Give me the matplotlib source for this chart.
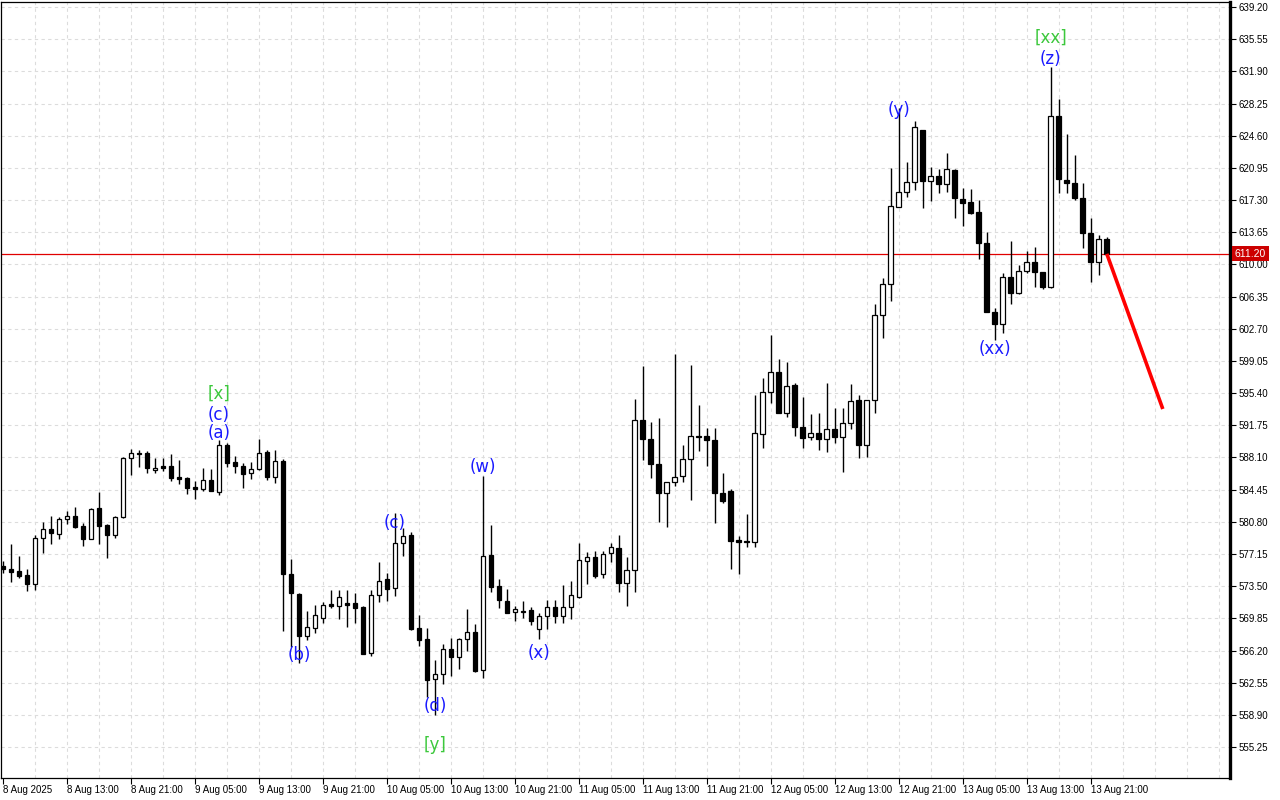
import matplotlib
matplotlib.use('Agg')
import matplotlib.pyplot as plt
import matplotlib.transforms as mtransforms
import numpy as np

# Hourly candles, 8 Aug 05:00 .. 13 Aug 23:00
opens = [575.82, 575.44, 575.22, 574.77, 573.71, 578.93, 579.98, 579.42, 581.08, 581.42,
         580.29, 578.81, 582.33, 580.44, 579.30, 581.31, 588.07, 588.60, 588.57, 586.70,
         587.10, 587.15, 585.85, 585.73, 584.70, 584.55, 585.50, 584.22, 589.50, 587.58,
         587.13, 586.30, 586.76, 588.68, 585.92, 587.70, 574.84, 572.61, 567.88, 568.72,
         569.94, 571.50, 571.30, 571.55, 571.55, 571.14, 565.88, 572.46, 574.31, 573.25,
         578.36, 579.27, 568.72, 567.47, 562.93, 563.50, 566.37, 565.50, 567.47, 568.26,
         563.95, 577.03, 573.52, 571.82, 570.53, 570.57, 570.79, 568.60, 570.11, 571.10,
         570.11, 571.17, 572.31, 576.39, 576.77, 574.84, 577.22, 577.79, 573.82, 575.33,
         592.35, 590.16, 587.32, 584.10, 585.35, 585.99, 587.89, 590.55, 590.50, 590.08,
         584.03, 584.29, 578.74, 578.62, 578.48, 590.73, 595.49, 597.76, 593.11, 596.32,
         591.59, 590.39, 590.91, 590.20, 591.29, 590.46, 591.97, 594.58, 589.55, 594.58,
         604.23, 607.74, 616.55, 618.25, 619.38, 625.25, 619.50, 620.03, 619.09, 620.68,
         617.39, 617.04, 615.91, 612.39, 604.56, 603.20, 608.54, 606.72, 609.25, 610.24,
         609.10, 607.47, 626.87, 619.57, 619.20, 617.50, 613.53, 610.24, 612.85]
highs = [576.30, 578.30, 576.90, 575.50, 579.30, 580.81, 581.45, 581.30, 582.00, 582.44,
         580.63, 582.40, 584.22, 580.52, 581.46, 588.10, 589.02, 589.00, 588.83, 588.07,
         588.00, 588.45, 587.80, 585.90, 585.46, 586.87, 586.76, 590.10, 589.70, 588.27,
         587.44, 587.55, 590.19, 588.94, 588.94, 587.90, 576.55, 572.70, 570.68, 571.36,
         571.74, 573.06, 573.06, 573.06, 572.70, 571.20, 573.06, 576.27, 574.96, 581.76,
         580.06, 579.68, 570.23, 568.72, 565.12, 566.94, 567.58, 567.65, 570.90, 569.20,
         586.00, 580.44, 574.31, 573.20, 571.28, 571.80, 571.17, 570.42, 571.93, 571.93,
         573.63, 574.12, 578.43, 577.41, 577.52, 577.52, 578.43, 579.30, 576.77, 594.70,
         598.47, 592.16, 592.54, 585.35, 599.84, 589.50, 598.59, 594.05, 591.40, 591.40,
         586.30, 584.49, 579.22, 581.69, 595.18, 597.08, 601.99, 599.23, 598.96, 596.51,
         594.92, 593.00, 593.11, 596.51, 593.68, 593.68, 596.43, 595.15, 594.60, 605.51,
         608.49, 620.97, 627.71, 621.65, 626.30, 625.30, 621.08, 620.82, 622.60, 620.79,
         618.63, 618.52, 617.30, 613.70, 605.02, 609.06, 612.65, 609.93, 611.52, 612.00,
         609.10, 632.36, 628.73, 624.76, 622.41, 619.20, 615.23, 613.33, 613.07]
lows = [575.00, 574.00, 574.40, 573.00, 573.06, 577.30, 578.28, 578.85, 580.55, 580.06,
        578.10, 578.80, 578.28, 576.73, 579.00, 581.20, 586.11, 587.05, 586.30, 586.30,
        586.60, 585.43, 585.05, 583.92, 583.42, 584.30, 584.30, 583.84, 587.05, 586.30,
        584.67, 585.62, 586.65, 585.54, 585.24, 568.45, 566.63, 564.75, 567.39, 568.15,
        569.28, 570.99, 569.77, 568.90, 569.35, 565.80, 565.60, 571.74, 571.85, 572.38,
        576.96, 568.52, 566.74, 560.96, 558.88, 562.40, 563.30, 564.10, 566.20, 563.79,
        563.11, 572.87, 571.06, 570.42, 569.58, 569.90, 569.10, 567.47, 568.60, 569.35,
        569.35, 569.80, 572.12, 573.75, 574.39, 574.39, 576.27, 572.80, 571.28, 572.87,
        587.81, 585.74, 580.81, 580.17, 584.89, 585.35, 583.27, 588.83, 587.13, 580.70,
        582.90, 575.45, 574.88, 577.97, 577.97, 589.14, 594.31, 593.10, 592.72, 590.53,
        589.21, 590.08, 588.94, 588.76, 589.77, 586.48, 591.33, 588.07, 588.18, 593.11,
        601.68, 605.88, 616.50, 617.68, 618.44, 616.43, 617.20, 618.06, 618.25, 615.30,
        614.39, 615.72, 610.58, 604.60, 601.42, 602.18, 605.47, 606.70, 609.00, 607.40,
        607.18, 607.29, 618.07, 618.07, 617.30, 611.83, 608.04, 608.80, 611.07]
closes = [575.44, 575.14, 574.65, 573.75, 579.00, 579.98, 579.50, 581.12, 581.42, 580.24,
          578.81, 582.25, 580.32, 579.30, 581.38, 588.00, 588.57, 588.50, 586.94, 586.95,
          586.95, 585.80, 585.66, 584.67, 584.55, 585.50, 584.33, 589.48, 587.50, 587.16,
          586.19, 586.76, 588.57, 585.92, 587.70, 574.84, 572.69, 567.88, 568.83, 570.20,
          571.33, 571.30, 572.24, 571.40, 571.05, 565.84, 572.46, 574.12, 573.14, 578.36,
          579.22, 568.64, 567.39, 562.85, 563.50, 566.34, 565.50, 567.47, 568.26, 563.87,
          576.95, 573.44, 571.93, 570.49, 570.91, 570.62, 569.58, 570.11, 571.10, 570.11,
          571.10, 572.46, 576.47, 576.77, 574.69, 577.11, 577.90, 573.82, 575.33, 592.31,
          590.16, 587.32, 584.03, 585.35, 585.92, 587.93, 590.57, 590.45, 590.10, 584.10,
          583.20, 578.66, 578.48, 578.48, 590.84, 595.49, 597.76, 593.11, 596.24, 591.59,
          590.27, 590.91, 590.16, 591.29, 590.39, 591.97, 594.47, 589.55, 594.58, 604.26,
          607.74, 616.63, 618.18, 619.38, 625.55, 619.50, 620.03, 619.09, 620.79, 617.50,
          617.00, 615.87, 612.39, 604.63, 603.20, 608.54, 606.72, 609.25, 610.24, 609.10,
          607.47, 626.87, 619.65, 619.20, 617.50, 613.53, 610.24, 612.85, 611.20]

current_price = 611.20

price_ticks = [555.25, 558.90, 562.55, 566.20, 569.85, 573.50, 577.15, 580.80, 584.45,
               588.10, 591.75, 595.40, 599.05, 602.70, 606.35, 610.00, 613.65, 617.30,
               620.95, 624.60, 628.25, 631.90, 635.55, 639.20]
time_labels = ['8 Aug 2025', '8 Aug 13:00', '8 Aug 21:00', '9 Aug 05:00', '9 Aug 13:00',
               '9 Aug 21:00', '10 Aug 05:00', '10 Aug 13:00', '10 Aug 21:00', '11 Aug 05:00',
               '11 Aug 13:00', '11 Aug 21:00', '12 Aug 05:00', '12 Aug 13:00', '12 Aug 21:00',
               '13 Aug 05:00', '13 Aug 13:00', '13 Aug 21:00']

# wave marks: text, bar index, price, colour
wave_text = ['[x]', '(c)', '(a)', '(b)', '(c)', '(d)', '[y]', '(w)', '(x)',
             '(y)', '(xx)', '(z)', '[xx]']
wave_bar = [27, 27, 27, 37, 49, 54, 54, 60, 67, 112, 124, 131, 131]
wave_price = [595.3, 592.9, 590.9, 565.7, 580.7, 559.9, 555.5, 587.0, 565.9,
              627.5, 600.4, 633.3, 635.7]
wave_color = ['g', 'b', 'b', 'b', 'b', 'b', 'g', 'b', 'b', 'b', 'b', 'b', 'g']

# forecast line
forecast_bar = [138, 145]
forecast_price = [611.2, 593.6]

GREEN = '#3cc83c'
BLUE = '#1a1aff'

fig = plt.figure(figsize=(12.8, 8), dpi=100)
ax = fig.add_axes([1 / 1280, 22 / 800, 1229 / 1280, 776 / 800])

o = np.array(opens)
h = np.array(highs)
l = np.array(lows)
c = np.array(closes)
x = np.arange(len(o))
up = c >= o

# grid
for p in price_ticks:
    ax.axhline(p, color='#dcdcdc', lw=0.8, ls=(0, (3, 3)), zorder=0)
for gx in range(4, 154, 4):
    ax.axvline(gx, color='#dcdcdc', lw=0.8, ls=(0, (3, 3)), zorder=0)

# candles
ax.vlines(x, l, h, color='black', lw=1.0, zorder=2)
bottom = np.minimum(o, c)
height = np.maximum(np.abs(c - o), 0.12)
ax.bar(x[up], height[up], bottom=bottom[up], width=0.6, color='white',
       edgecolor='black', linewidth=0.9, zorder=3)
ax.bar(x[~up], height[~up], bottom=bottom[~up], width=0.6, color='black',
       edgecolor='black', linewidth=0.9, zorder=3)

# current price line
ax.axhline(current_price, color='#e00000', lw=0.9, zorder=1)

# forecast
ax.plot(forecast_bar, forecast_price, color='#ff0000', lw=2.6, zorder=4,
        solid_capstyle='butt')

# wave labels
for t, b, p, col in zip(wave_text, wave_bar, wave_price, wave_color):
    ax.text(b, p, t, color=GREEN if col == 'g' else BLUE, fontsize=12,
            ha='center', va='center', zorder=5)

ax.set_xlim(-0.25, 153.4)
ax.set_ylim(551.74, 639.77)

# axes styling
ax.yaxis.tick_right()
ax.set_yticks(price_ticks)
ax.set_yticklabels(['%.2f' % p for p in price_ticks], fontsize=7,
                   family='Liberation Sans')
ax.set_xticks(range(0, 8 * len(time_labels), 8))
ax.set_xticklabels(time_labels, fontsize=7, family='Liberation Sans', ha='left')
ax.tick_params(axis='both', length=4, width=0.8, direction='out', pad=2)
ax.tick_params(axis='x', pad=1)
for s in ['left', 'top', 'bottom']:
    ax.spines[s].set_linewidth(0.9)
ax.spines['right'].set_linewidth(2.4)

# current price tag on the axis
trans = mtransforms.blended_transform_factory(ax.transAxes, ax.transData)
ax.text(1.004, current_price, '%.2f' % current_price, transform=trans,
        fontsize=7.5, family='Liberation Sans', color='white', ha='left', va='center',
        bbox=dict(boxstyle='square,pad=0.25', fc='#cc0000', ec='none'), zorder=6)

fig.savefig('out.png', dpi=100)
